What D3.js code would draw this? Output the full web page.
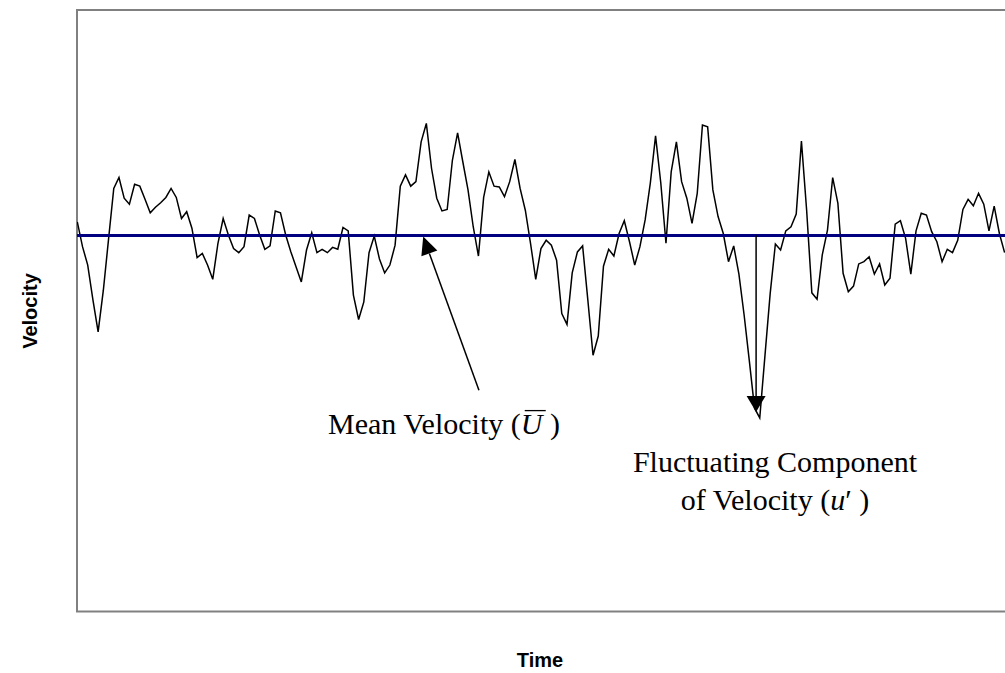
<!DOCTYPE html>
<html>
<head>
<meta charset="utf-8">
<script src="https://cdn.jsdelivr.net/npm/d3@7"></script>
<style>
  body { margin: 0; background: #fff; }
  svg { display: block; }
</style>
</head>
<body>
<svg id="chart" width="1005" height="673"></svg>
<script>
// Instantaneous velocity samples (arbitrary units), one per time step
const velocity = [
  10.36, 9.70, 9.21, 8.28, 7.43, 8.54, 9.90, 11.25, 11.54, 10.99,
  10.83, 11.36, 11.31, 10.96, 10.60, 10.75, 10.87, 11.01, 11.25, 11.01,
  10.45, 10.63, 10.19, 9.41, 9.52, 9.21, 8.83, 9.79, 10.45, 10.01,
  9.65, 9.54, 9.70, 10.54, 10.45, 10.01, 9.63, 9.72, 10.65, 10.60,
  10.01, 9.56, 9.16, 8.76, 9.61, 10.07, 9.54, 9.63, 9.54, 9.68,
  9.63, 10.21, 10.12, 8.41, 7.76, 8.23, 9.54, 9.98, 9.37, 9.00,
  9.21, 9.74, 11.31, 11.61, 11.31, 11.43, 12.49, 12.98, 11.78, 10.99,
  10.65, 10.69, 12.00, 12.73, 11.96, 11.21, 10.23, 9.45, 11.01, 11.69,
  11.31, 11.29, 11.03, 11.43, 12.02, 11.25, 10.67, 9.79, 8.83, 9.65,
  9.87, 9.74, 9.34, 7.92, 7.63, 9.00, 9.56, 9.72, 8.28, 6.81,
  7.32, 9.18, 9.63, 9.45, 10.05, 10.39, 9.83, 9.21, 9.70, 10.41,
  11.40, 12.65, 11.40, 9.79, 11.69, 12.49, 11.43, 10.99, 10.32, 11.12,
  12.94, 12.89, 11.21, 10.50, 10.05, 9.30, 9.72, 8.97, 7.88, 6.66,
  5.40, 5.14, 6.80, 8.45, 9.77, 9.61, 10.12, 10.23, 10.57, 12.51,
  10.67, 8.47, 8.30, 9.48, 10.14, 11.54, 10.85, 8.99, 8.50, 8.65,
  9.24, 9.30, 9.43, 8.97, 9.24, 8.68, 8.86, 10.30, 10.39, 9.92,
  8.97, 10.12, 10.59, 10.54, 10.10, 9.83, 9.30, 9.63, 9.54, 9.87,
  10.69, 10.96, 10.79, 11.12, 10.83, 10.12, 10.78, 10.05, 9.54
];
// Time step of each sample
const timeStep = velocity.map((_, i) => i);
// Time-averaged velocity
const meanVelocity = 10;
const velocityRange = [0, 16];

const xTitle = "Time";
const yTitle = "Velocity";
const meanLabel = ["Mean Velocity (", "U", " )"];
const fluctLabel = ["Fluctuating Component", "of Velocity (", "u", "\u2032", " )"];

// Annotation anchors in data units: [time step, velocity]
const meanArrowTail = [77.1, 5.88];
const meanArrowTip = [66.4, 9.97];
const fluctArrowTail = [130.3, 10];
const fluctArrowTip = [130.3, 5.30];

const svg = d3.select("#chart");
const plot = { left: 77, top: 10, right: 1020, bottom: 611.5 };

const x = d3.scaleLinear()
  .domain([timeStep[0], timeStep[timeStep.length - 1]])
  .range([77.3, 1004.6]);
const y = d3.scaleLinear()
  .domain(velocityRange)
  .range([611, 10]);

// Plot area frame
svg.append("rect")
  .attr("x", plot.left).attr("y", plot.top)
  .attr("width", plot.right - plot.left)
  .attr("height", plot.bottom - plot.top)
  .attr("fill", "#fff")
  .attr("stroke", "#808080")
  .attr("stroke-width", 2);

svg.append("clipPath").attr("id", "plotClip")
  .append("rect")
  .attr("x", plot.left).attr("y", plot.top)
  .attr("width", plot.right - plot.left)
  .attr("height", plot.bottom - plot.top);

const g = svg.append("g").attr("clip-path", "url(#plotClip)");

// Instantaneous velocity trace
const line = d3.line()
  .x((d, i) => x(timeStep[i]))
  .y(d => y(d));

g.append("path")
  .datum(velocity)
  .attr("fill", "none")
  .attr("stroke", "#000")
  .attr("stroke-width", 1.5)
  .attr("stroke-linejoin", "miter")
  .attr("d", line);

// Mean velocity line
g.append("line")
  .attr("x1", plot.left).attr("x2", plot.right)
  .attr("y1", y(meanVelocity)).attr("y2", y(meanVelocity))
  .attr("stroke", "#000080")
  .attr("stroke-width", 3);

// Arrow with a filled triangular head
function arrow(tail, tip, headLen, headHalf) {
  const x1 = x(tail[0]), y1 = y(tail[1]);
  const x2 = x(tip[0]), y2 = y(tip[1]);
  const dx = x2 - x1, dy = y2 - y1;
  const len = Math.hypot(dx, dy);
  const ux = dx / len, uy = dy / len;
  const bx = x2 - ux * headLen, by = y2 - uy * headLen;
  svg.append("line")
    .attr("x1", x1).attr("y1", y1)
    .attr("x2", bx).attr("y2", by)
    .attr("stroke", "#000").attr("stroke-width", 1.5);
  svg.append("path")
    .attr("d", `M${x2},${y2}L${bx - uy * headHalf},${by + ux * headHalf}L${bx + uy * headHalf},${by - ux * headHalf}Z`)
    .attr("fill", "#000");
}
arrow(meanArrowTail, meanArrowTip, 18, 8.5);
arrow(fluctArrowTail, fluctArrowTip, 16, 9.5);

// Annotation labels
const serif = "'Liberation Serif', 'Times New Roman', serif";
const labelSize = 30;

const meanText = svg.append("text")
  .attr("x", 328).attr("y", 434)
  .attr("font-family", serif).attr("font-size", labelSize)
  .attr("fill", "#000");
meanText.append("tspan").text(meanLabel[0]);
const uBar = meanText.append("tspan").attr("font-style", "italic").text(meanLabel[1]);
meanText.append("tspan").text(meanLabel[2]);
// Overbar above the U
{
  const bb = uBar.node().getBBox();
  svg.append("line")
    .attr("x1", bb.x + 4).attr("x2", bb.x + bb.width + 1)
    .attr("y1", 434 - labelSize * 0.78).attr("y2", 434 - labelSize * 0.78)
    .attr("stroke", "#000").attr("stroke-width", 1.3);
}

const fluctText = svg.append("text")
  .attr("font-family", serif).attr("font-size", labelSize)
  .attr("fill", "#000").attr("text-anchor", "middle");
fluctText.append("tspan").attr("x", 775).attr("y", 472).text(fluctLabel[0]);
const second = fluctText.append("tspan").attr("x", 775).attr("y", 510);
second.append("tspan").text(fluctLabel[1]);
second.append("tspan").attr("font-style", "italic").text(fluctLabel[2]);
second.append("tspan").text(fluctLabel[3]);
second.append("tspan").text(fluctLabel[4]);

// Axis titles
const sans = "'Liberation Sans', Arial, sans-serif";
svg.append("text")
  .attr("x", 540).attr("y", 667)
  .attr("text-anchor", "middle")
  .attr("font-family", sans).attr("font-weight", "bold").attr("font-size", 20)
  .text(xTitle);

svg.append("text")
  .attr("transform", "translate(37,311) rotate(-90)")
  .attr("text-anchor", "middle")
  .attr("font-family", sans).attr("font-weight", "bold").attr("font-size", 20)
  .text(yTitle);
</script>
</body>
</html>
